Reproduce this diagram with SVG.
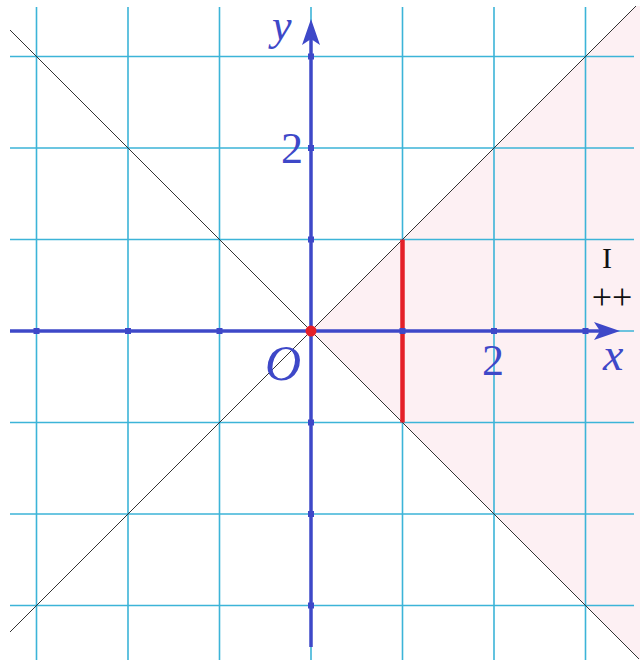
<svg xmlns="http://www.w3.org/2000/svg" width="640" height="660" viewBox="0 0 640 660">
<defs>
<style>
.grid{stroke:#3cb4d8;stroke-width:1.6;fill:none}
.diag{stroke:#333;stroke-width:1;fill:none}
.axis{stroke:#3e48c8;stroke-width:3.5;fill:none}
.tick{fill:#3e48c8}
.lbl{font-family:"Liberation Serif","Times New Roman",serif;fill:#3e48c8}
.blk{font-family:"Liberation Serif","Times New Roman",serif;fill:#111}
</style>
</defs>
<rect width="640" height="660" fill="#fff"/>
<polygon points="311,331 636,6 640,6 640,660 639,659" fill="#fdf0f3"/>
<g id="grid">
<path class="grid" d="M36.5,7V660M128,7V660M219.5,7V660M311,7V660M402.5,7V660M494,7V660M585.5,7V660"/>
<path class="grid" d="M10,56.5H634M10,148H634M10,239.5H634M10,331H634M10,422.5H634M10,514H634M10,605.5H634"/>
</g>
<g id="connectors">
<line class="diag" x1="10" y1="632" x2="636" y2="6"/>
<line class="diag" x1="10" y1="30" x2="639" y2="659"/>
<line class="axis" x1="10" y1="331" x2="605" y2="331"/>
<line class="axis" x1="311" y1="647" x2="311" y2="35"/>
<path d="M620,331 L594,322 L600,331 L594,340 Z" fill="#3e48c8"/>
<path d="M311,19 L302,45 L311,39 L320,45 Z" fill="#3e48c8"/>
<line x1="402.5" y1="239.5" x2="402.5" y2="422.5" stroke="#e42028" stroke-width="4.5"/>
</g>
<g id="ticks">
<rect class="tick" x="33.5" y="328" width="6" height="6"/>
<rect class="tick" x="125" y="328" width="6" height="6"/>
<rect class="tick" x="216.5" y="328" width="6" height="6"/>
<rect class="tick" x="399.5" y="328" width="6" height="6"/>
<rect class="tick" x="491" y="328" width="6" height="6"/>
<rect class="tick" x="582.5" y="328" width="6" height="6"/>
<rect class="tick" x="308" y="53.5" width="6" height="6"/>
<rect class="tick" x="308" y="145" width="6" height="6"/>
<rect class="tick" x="308" y="236.5" width="6" height="6"/>
<rect class="tick" x="308" y="419.5" width="6" height="6"/>
<rect class="tick" x="308" y="511" width="6" height="6"/>
<rect class="tick" x="308" y="602.5" width="6" height="6"/>
</g>
<g id="origin"><circle cx="311" cy="331" r="5.5" fill="#e42028"/></g>
<g id="labels">
<text class="lbl" x="272" y="40" font-size="44" font-style="italic">y</text>
<text class="lbl" x="292" y="163" font-size="44" text-anchor="middle">2</text>
<text class="lbl" x="265" y="380" font-size="50" font-style="italic">O</text>
<text class="lbl" x="493" y="375" font-size="44" text-anchor="middle">2</text>
<text class="lbl" x="603" y="370" font-size="46" font-style="italic">x</text>
<text class="blk" x="607" y="268" font-size="30" text-anchor="middle">I</text>
<text class="blk" x="612" y="309" font-size="36" text-anchor="middle">++</text>
</g>
</svg>
